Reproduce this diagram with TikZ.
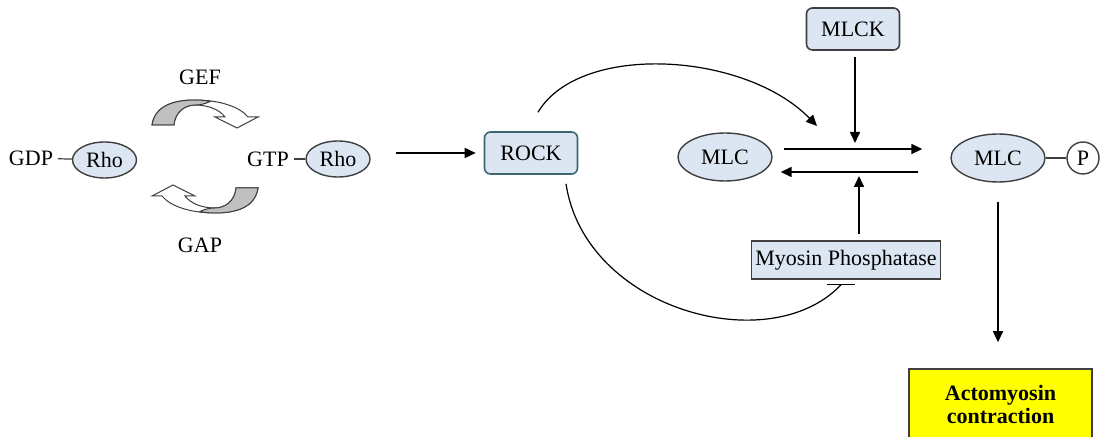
\documentclass[tikz,border=0pt]{standalone}
\usepackage{fontspec}
\setmainfont{Liberation Serif}
\usetikzlibrary{arrows.meta, positioning, shapes.geometric, calc}
\definecolor{cfill}{HTML}{DCE6F2}
\definecolor{cline}{HTML}{3F3F3F}
\definecolor{crock}{HTML}{3B6573}
\definecolor{cribbon}{HTML}{C0C0C0}
\definecolor{cyellow}{HTML}{FFFF00}
\tikzset{
  every picture/.style={line width=0.8pt},
  every node/.style={font=\fontsize{11pt}{13pt}\selectfont},
  txt/.style={inner sep=2pt},
  prot/.style={ellipse, draw=cline, fill=cfill, line width=0.7pt, inner sep=0pt, minimum height=18pt},
  kinase/.style={draw=cline, fill=cfill, rounded corners=3pt, minimum width=46.5pt, minimum height=21pt, inner sep=1pt},
  link/.style={draw=cline, line width=0.6pt},
  arrow/.style={-{Triangle[length=5.5pt, width=5pt]}, draw=black, line width=0.8pt},
  curve/.style={draw=black, line width=0.6pt},
  ribbon/.style={draw=cline, line width=0.5pt, fill=white},
}
\begin{document}
\begin{tikzpicture}[x=0.5pt, y=-0.5pt]
  \clip (0,0) rectangle (1101,437);
  % Rho switch
  \node[txt] (gdp) at (31,158) {GDP};
  \node[prot, minimum width=32pt] (rhoL) at (104.5,160) {Rho};
  \node[txt] (gtp) at (268,159) {GTP};
  \node[prot, minimum width=32pt] (rhoR) at (338,159) {Rho};
  \draw[link] (gdp) -- (rhoL);
  \draw[link] (gtp) -- (rhoR);
  \node[txt] (gef) at (200,77) {GEF};
  \node[txt] (gap) at (200,245) {GAP};
  \foreach \ang in {0,180} {
    \begin{scope}[rotate around={\ang:(205,156.5)}]
      \filldraw[ribbon] (152,125) .. controls (155,105) and (175,100) .. (195,100)
        .. controls (220,100) and (240,107) .. (248,117) -- (258,117) -- (237,128) -- (215,117) -- (225,117)
        .. controls (219,109) and (207,105) .. (195,105) .. controls (185,105) and (175,112) .. (174,125) -- cycle;
      \filldraw[ribbon, fill=cribbon] (152,125) .. controls (155,105) and (175,100) .. (195,100)
        .. controls (201,100) and (205,100.5) .. (210,101.5) .. controls (205,104) and (200,105) .. (195,105)
        .. controls (185,105) and (175,112) .. (174,125) -- cycle;
    \end{scope}
  }
  % ROCK and the MLC switch
  \node[kinase, draw=crock] (rock) at (531,153) {ROCK};
  \node[kinase] (mlck) at (853,29) {MLCK};
  \node[prot, minimum width=47pt, minimum height=24pt] (mlcL) at (725,157) {MLC};
  \node[prot, minimum width=47pt, minimum height=24pt] (mlcR) at (998,158) {MLC};
  \node[circle, draw=cline, fill=white, line width=0.7pt, minimum size=16pt, inner sep=0pt] (p) at (1083,158) {P};
  \draw[link] (mlcR) -- (p);
  \node[draw=cline, fill=cfill, minimum width=94.5pt, minimum height=19pt, inner sep=1pt] (myo) at (846,260) {Myosin Phosphatase};
  \node[draw=cline, fill=cyellow, font=\bfseries\fontsize{11pt}{11.5pt}\selectfont, align=center,
        minimum width=91.5pt, minimum height=35pt] (acto) at (1000.5,404) {Actomyosin\\contraction};
  \draw[arrow, shorten <=12.5pt, shorten >=4pt] (rhoR.east |- rock.west) -- (rock.west);
  \draw[arrow, shorten <=5.5pt, shorten >=14pt] ([yshift=4pt]mlcL.east) -- ([yshift=4pt]mlcL.east -| mlcR.west);
  \draw[arrow, shorten <=16pt, shorten >=4pt] ([yshift=-7.5pt]mlcL.east -| mlcR.west) -- ([yshift=-7.5pt]mlcL.east);
  \coordinate (kin) at (855,143);
  \coordinate (pho) at (859,176);
  \draw[arrow, shorten <=3pt] (mlck.south -| kin) -- (kin);
  \draw[arrow, shorten <=3pt] (myo.north -| pho) -- (pho);
  \draw[arrow, shorten <=9.5pt, shorten >=13pt] (mlcR.south) -- (mlcR.south |- acto.north);
  % ROCK acts on both enzymes
  \coordinate (rockaim) at (817,126);
  \draw[arrow, curve] ($(rock.north)+(7,-19)$) .. controls (580,42) and (745,52) .. (rockaim);
  \coordinate (block) at ($(myo.south)+(-5,5)$);
  \draw[curve] ($(rock.south)+(35,9)$) .. controls (585,310) and (770,360) .. (block);
  \draw[curve] ([xshift=-7pt]block) -- ([xshift=7pt]block);
\end{tikzpicture}
\end{document}
